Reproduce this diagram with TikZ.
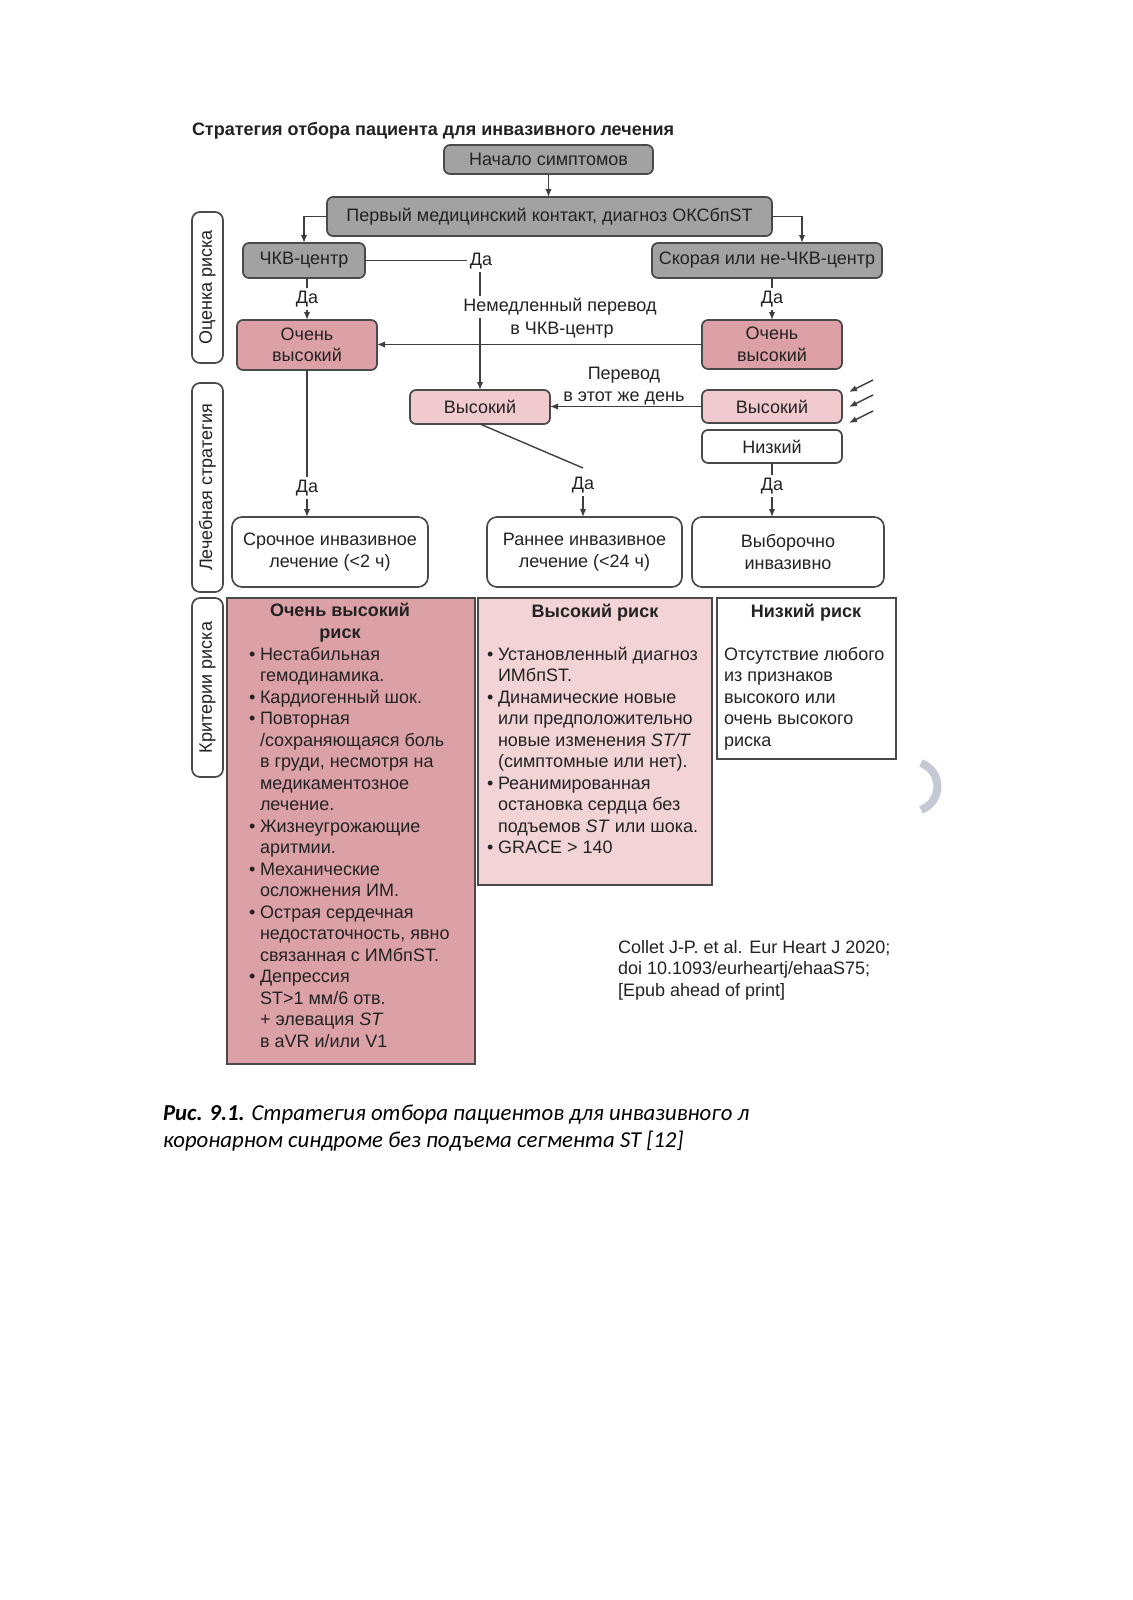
\documentclass[tikz,border=0pt]{standalone}
\usepackage{fontspec}
\setmainfont{Liberation Sans}
\newfontfamily\capfont{Carlito}
\usetikzlibrary{arrows.meta}
\definecolor{bord}{HTML}{4A4A4A}
\definecolor{lin}{HTML}{3F3F3F}
\definecolor{grayf}{HTML}{A2A2A2}
\definecolor{pinkS}{HTML}{DDA0A7}
\definecolor{pinkL}{HTML}{F0CACE}
\definecolor{critA}{HTML}{DCA1A7}
\definecolor{critB}{HTML}{F2D4D7}
\definecolor{txt}{HTML}{222222}
\definecolor{artif}{HTML}{C6C9D4}
\newcommand\mybox[7]{\node[#1, minimum width={(#5-#3)*0.5pt}, minimum height={(#6-#4)*0.5pt}] (#2) at ({(#3+#5)/2},{(#4+#6)/2}) {#7};}
\begin{document}
\begin{tikzpicture}[x=0.5pt,y=-0.5pt,
  base/.style={font=\fontsize{9}{10.75}\selectfont, text=txt, align=center, inner sep=0pt, outer sep=0pt},
  bold/.style={base, font=\fontsize{9}{10.75}\selectfont\bfseries},
  gbox/.style={base, draw=bord, line width=0.85pt, rounded corners=3pt, fill=grayf},
  pbox/.style={base, draw=bord, line width=0.85pt, rounded corners=3pt, fill=pinkS},
  lbox/.style={base, draw=bord, line width=0.85pt, rounded corners=3pt, fill=pinkL},
  wbox/.style={base, draw=bord, line width=0.85pt, rounded corners=3pt, fill=white},
  rbox/.style={base, draw=bord, line width=0.85pt, rounded corners=5pt, fill=white},
  sidebox/.style={base, draw=bord, line width=0.85pt, rounded corners=4pt, fill=white, rotate=90},
  critboxA/.style={base, draw=bord, line width=0.85pt, fill=critA},
  critboxB/.style={base, draw=bord, line width=0.85pt, fill=critB},
  critboxC/.style={base, draw=bord, line width=0.85pt, fill=white},
  lab/.style={base, fill=white, inner sep=1.5pt},
  conn/.style={draw=lin, line width=0.7pt},
  arr/.style={conn, -{Latex[length=4pt,width=3.2pt]}},
  line/.style={base, anchor=base west}
]
\fill[white] (0,0) rectangle (1132,1600);
\useasboundingbox (0,0) rectangle (1132,1600);

\node[bold, anchor=west] (title) at (192,131) {Стратегия отбора пациента для инвазивного лечения};

\mybox{gbox}{start}{444}{145}{653}{174}{Начало симптомов}
\mybox{gbox}{first}{327}{197}{772}{236}{Первый медицинский контакт, диагноз ОКСбпST}
\mybox{gbox}{pci}{243}{243}{365}{278}{ЧКВ-центр}
\mybox{gbox}{amb}{652}{243}{882}{278}{Скорая или не-ЧКВ-центр}
\mybox{pbox}{vhl}{237}{320}{377}{370}{Очень\\высокий}
\mybox{pbox}{vhr}{702}{320}{842}{369}{Очень\\высокий}
\mybox{lbox}{hm}{410}{390}{550}{424}{Высокий}
\mybox{lbox}{hr}{702}{390}{842}{423}{Высокий}
\mybox{wbox}{low}{702}{430}{842}{463}{Низкий}
\mybox{rbox}{urg}{232}{517}{428}{587}{Срочное инвазивное\\лечение (<2 ч)}
\mybox{rbox}{early}{487}{517}{682}{587}{Раннее инвазивное\\лечение (<24 ч)}
\mybox{rbox}{sel}{692}{517}{884}{587}{Выборочно\\инвазивно}

% side labels
\node[sidebox, minimum width={151*0.5pt}, minimum height={31*0.5pt}] (s1) at (207.5,287.5) {Оценка риска};
\node[sidebox, minimum width={209*0.5pt}, minimum height={31*0.5pt}] (s2) at (207.5,487.5) {Лечебная стратегия};
\node[sidebox, minimum width={179*0.5pt}, minimum height={31*0.5pt}] (s3) at (207.5,687.5) {Критерии риска};

% connectors
\draw[arr] (start.south) -- (start.south |- first.north);
\draw[arr] (first.west) -| (pci.north);
\draw[arr] (first.east) -| ([xshift=17.5pt]amb.north);
\draw[arr] (pci.south -| vhl.north) -- node[lab]{Да} (vhl.north);
\draw[arr] (amb.south -| vhr.north) -- node[lab]{Да} (vhr.north);
\node[lab] (da0) at (481,261.5) {Да};
\draw[conn] (pci.east) -- (pci.east -| da0.west);
\draw[arr] (da0.south -| hm.north) -- (hm.north);
\draw[arr] (vhr.west) -- (vhr.west -| vhl.east);
\node[base, fill=white, inner sep=1pt] (imm1) at (560,307) {Немедленный перевод};
\node[base] (imm2) at (562,330) {в ЧКВ-центр};
\draw[arr] (hr.west) -- (hr.west -| hm.east);
\node[base] (sameday) at (624,386) {Перевод\\в этот же день};
\coordinate (sa1) at (873,380); \coordinate (sb1) at (849,392);
\coordinate (sa2) at (873,395); \coordinate (sb2) at (849,407);
\coordinate (sa3) at (873,411); \coordinate (sb3) at (849,423);
\draw[arr] (sa1) -- (sb1);
\draw[arr] (sa2) -- (sb2);
\draw[arr] (sa3) -- (sb3);
\draw[arr] (vhl.south) -- node[lab, pos=0.8]{Да} (vhl.south |- urg.north);
\coordinate (dk) at (583,468);
\draw[conn] (hm.south) -- (dk);
\node[lab] (da3) at (583,485) {Да};
\draw[arr] (da3.south) -- (da3.south |- early.north);
\draw[arr] (low.south) -- node[lab, pos=0.42]{Да} (low.south |- sel.north);

% criteria boxes
\mybox{critboxA}{c1}{227}{598}{475}{1064}{}
\mybox{critboxB}{c2}{478}{598}{712}{885}{}
\mybox{critboxC}{c3}{717}{598}{896}{759}{}

\node[bold] (c1h) at (340,622.5) {Очень высокий\\риск};
\node[bold, anchor=base] (c2h) at (595,617) {Высокий риск};
\node[bold, anchor=base] (c3h) at (806,617) {Низкий риск};

\foreach \yy/\tx [count=\i] in {660/{Нестабильная}, 681.5/{гемодинамика.}, 703/{Кардиогенный шок.}, 724.5/{Повторная}, 746/{/сохраняющаяся боль}, 767.5/{в груди, несмотря на}, 789/{медикаментозное}, 810.5/{лечение.}, 832/{Жизнеугрожающие}, 853.5/{аритмии.}, 875/{Механические}, 896.5/{осложнения ИМ.}, 918/{Острая сердечная}, 939.5/{недостаточность, явно}, 961/{связанная с ИМбпST.}, 982.5/{Депрессия}, 1004/{ST>1 мм/6 отв.}, 1025.5/{+ элевация \textit{ST}}, 1047/{в aVR и/или V1}}
  \node[line] (c1l\i) at (260,\yy) {\tx};
\foreach \yy [count=\i] in {660,703,724.5,832,875,918,982.5}
  \node[line] (c1b\i) at (249,\yy) {•};

\foreach \yy/\tx [count=\i] in {660/{Установленный диагноз}, 681.5/{ИМбпST.}, 703/{Динамические новые}, 724.5/{или предположительно}, 746/{новые изменения \textit{ST/T}}, 767.5/{(симптомные или нет).}, 789/{Реанимированная}, 810.5/{остановка сердца без}, 832/{подъемов \textit{ST} или шока.}, 853.5/{GRACE > 140}}
  \node[line] (c2l\i) at (498,\yy) {\tx};
\foreach \yy [count=\i] in {660,703,789,853.5}
  \node[line] (c2b\i) at (487,\yy) {•};

\foreach \yy/\tx [count=\i] in {660/{Отсутствие любого}, 681.5/{из признаков}, 703/{высокого или}, 724.5/{очень высокого}, 746/{риска}}
  \node[line] (c3l\i) at (724,\yy) {\tx};

% reference
\node[line] (ref1) at (618,953) {Collet J-P. et al. Eur Heart J 2020;};
\node[line] (ref2) at (618,974.5) {doi 10.1093/eurheartj/ehaaS75;};
\node[line] (ref3) at (618,996) {[Epub ahead of print]};

% artefact arc
\draw[artif, line width=4pt] (921,763) arc[start angle=70, end angle=-70, radius=12.5pt];

% caption
\node[line, font=\capfont\fontsize{11.4}{13}\selectfont, text=black] (cap1) at (163,1120) {\textbf{\textit{Рис. 9.1.}} \textit{Стратегия отбора пациентов для инвазивного л}};
\node[line, font=\capfont\fontsize{11.4}{13}\selectfont, text=black] (cap2) at (163,1147) {\textit{коронарном синдроме без подъема сегмента ST [12]}};
\end{tikzpicture}
\end{document}
